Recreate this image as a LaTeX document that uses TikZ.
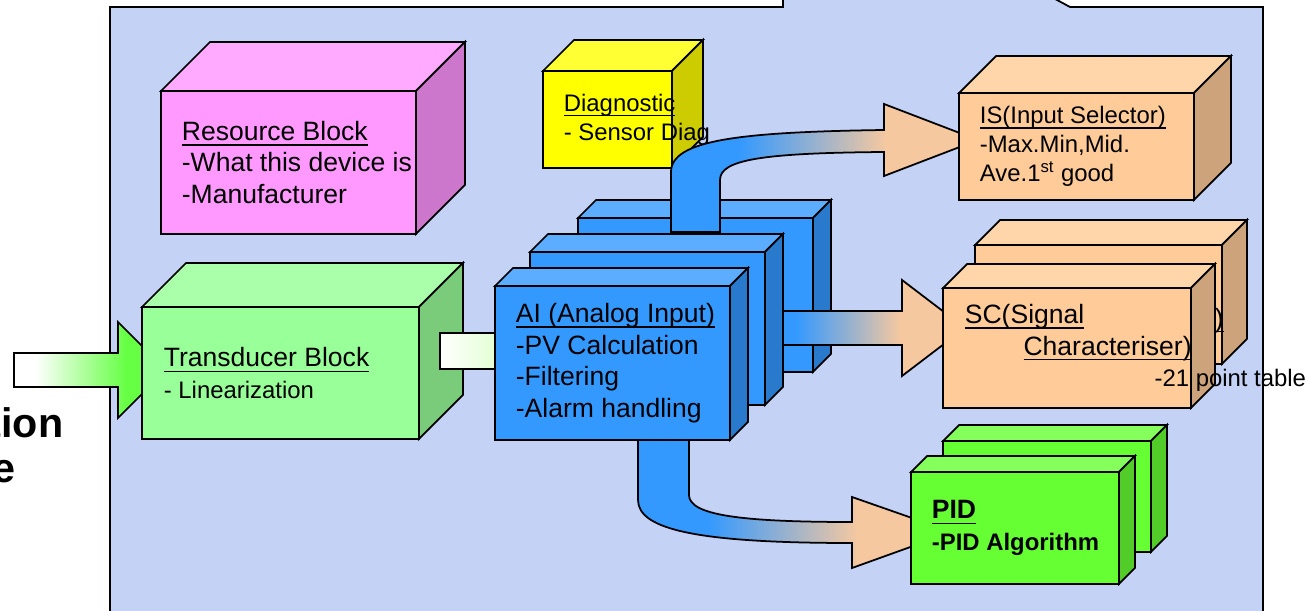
\documentclass[tikz,border=0pt]{standalone}
\usepackage{fontspec}
\setmainfont{Liberation Sans}

\definecolor{bgblue}{RGB}{196,210,246}
\definecolor{pinkfront}{RGB}{255,153,255}
\definecolor{pinktop}{RGB}{255,170,255}
\definecolor{pinkside}{RGB}{204,119,204}
\definecolor{yellowfront}{RGB}{255,255,0}
\definecolor{yellowtop}{RGB}{255,255,51}
\definecolor{yellowside}{RGB}{204,204,0}
\definecolor{lgreenfront}{RGB}{153,255,153}
\definecolor{lgreentop}{RGB}{170,255,170}
\definecolor{lgreenside}{RGB}{122,204,122}
\definecolor{bluefront}{RGB}{51,153,255}
\definecolor{bluetop}{RGB}{92,173,255}
\definecolor{blueside}{RGB}{41,122,204}
\definecolor{peachfront}{RGB}{255,204,153}
\definecolor{peachtop}{RGB}{255,214,170}
\definecolor{peachside}{RGB}{204,163,122}
\definecolor{pidfront}{RGB}{102,255,51}
\definecolor{pidtop}{RGB}{133,255,92}
\definecolor{pidside}{RGB}{82,204,41}
\definecolor{arrowgreen}{RGB}{102,255,68}
\definecolor{arrowpeach}{RGB}{245,200,160}
\definecolor{paleleaf}{RGB}{225,255,210}

\pgfdeclarehorizontalshading{bluepeach}{100bp}{color(0bp)=(bluefront); color(36bp)=(bluefront); color(60bp)=(arrowpeach); color(100bp)=(arrowpeach)}
\pgfdeclarehorizontalshading{whitegreen}{100bp}{color(0bp)=(white); color(32bp)=(white); color(62bp)=(arrowgreen); color(100bp)=(arrowgreen)}

\newcommand{\blockfont}{\fontsize{15.1}{17.9}\selectfont}
\newcommand{\notefont}{\fontsize{13.6}{16.6}\selectfont}
\newcommand{\headline}[1]{{\setbox0\hbox{#1}\rlap{\rule[-3pt]{\wd0}{0.85pt}}\box0}}

% front face as a node, top and side drawn from its anchors
\newcommand{\blockcube}[7]{%
\node[face, fill=#7front, minimum width=#4cm, minimum height=#5cm] (#1) at (#2,#3) {};
\draw[fill=#7top] (#1.north west) -- ++(#6,-#6) -- ([shift={(#6,-#6)}]#1.north east) -- (#1.north east) -- cycle;
\draw[fill=#7side] (#1.north east) -- ++(#6,-#6) -- ([shift={(#6,-#6)}]#1.south east) -- (#1.south east) -- cycle;}

\begin{document}
\begin{tikzpicture}[x=0.02cm, y=-0.02cm, line width=1pt,
  face/.style={draw, anchor=north west, inner sep=0pt, outer sep=0pt},
  txt/.style={anchor=west, align=left, inner sep=0pt},
  bluearrow/.style={draw, shade, shading=bluepeach},
  greenarrow/.style={draw, shade, shading=whitegreen}]
\useasboundingbox (0,0) rectangle (1308,611);

\draw[fill=bgblue] (110,640) -- (110,7) -- (783,7) -- (783,-148) -- (1070,7) -- (1263,7) -- (1263,640) -- cycle;

\node[anchor=base east, font=\fontsize{23.5}{27}\selectfont\bfseries] (L1) at (70,437) {tion};
\node[anchor=base east, font=\fontsize{23.5}{27}\selectfont\bfseries] (L2) at (22,482) {e};

\blockcube{RB}{161}{91}{5.10}{2.86}{49}{pink}
\node[txt, font=\blockfont] (RBt) at ([xshift=0.4cm]RB.west) {\headline{Resource Block}\\-What this device is\\-Manufacturer};

\blockcube{DG}{543}{71}{2.58}{1.94}{31}{yellow}
\node[txt, font=\notefont] (DGt) at ([xshift=0.4cm]DG.west) {\headline{Diagnostic}\\- Sensor Diag};

\draw[greenarrow] (14,353) -- (118,353) -- (118,322) -- (166,370) -- (118,418) -- (118,387) -- (14,387) -- cycle;
\blockcube{TB}{142}{307}{5.54}{2.64}{44}{lgreen}
\node[txt, font=\blockfont] (TBt) at ([xshift=0.42cm]TB.west) {\headline{Transducer Block}\\{\notefont - Linearization}};

\draw[shade, left color=white, right color=paleleaf] (440,333) rectangle (500,369);

\blockcube{AI3}{578}{218}{4.70}{3.08}{18}{blue}
\draw[bluearrow] (671,232) -- (671,172) .. controls (671,140) and (740,132) .. (884,130) -- (884,104) -- (978,140) -- (884,176) -- (884,152) .. controls (760,153) and (720,160) .. (720,180) -- (720,232) -- cycle;
\draw[bluearrow] (748,311) -- (902,311) -- (902,280) -- (965,328) -- (902,376) -- (902,345) -- (748,345) -- cycle;
\blockcube{AI2}{530}{252}{4.70}{3.06}{18}{blue}
\draw[bluearrow] (638,430) -- (638,500) .. controls (638,530) and (700,543) .. (852,543) -- (852,568) -- (952,532) -- (852,497) -- (852,522) .. controls (740,522) and (689,515) .. (689,495) -- (689,430) -- cycle;
\blockcube{AI1}{495}{286}{4.70}{3.08}{18}{blue}
\node[txt, font=\blockfont] (AIt) at ([xshift=0.4cm]AI1.west) {\headline{AI (Analog Input)}\\-PV Calculation\\-Filtering\\-Alarm handling};

\blockcube{IS}{959}{93}{4.70}{2.14}{37}{peach}
\node[txt, font=\notefont] (ISt) at ([xshift=0.4cm]IS.west) {\headline{IS(Input Selector)}\\-Max.Min,Mid.\\Ave.1\textsuperscript{st} good};

\blockcube{SC2}{975}{245}{4.94}{2.38}{25}{peach}
\node[txt, font=\blockfont] (SC2t) at ([xshift=0.42cm]SC2.west) {\headline{SC(Signal}\\\hspace*{33.4pt}\headline{Characteriser)}};
\blockcube{SC1}{943}{288}{4.96}{2.40}{24}{peach}
\node[txt, font=\blockfont] (SC1t) at ([xshift=0.42cm]SC1.west) {\headline{SC(Signal}\\\hspace*{33.4pt}\headline{Characteriser)}\\{\notefont\hspace*{108pt}-21 point table}};

\blockcube{PID2}{943}{441}{4.16}{2.22}{16}{pid}
\blockcube{PID1}{911}{472}{4.16}{2.24}{16}{pid}
\node[txt, font=\blockfont\bfseries] (PIDt) at ([xshift=0.4cm]PID1.west) {\headline{PID}\\{\notefont -PID Algorithm}};
\end{tikzpicture}
\end{document}
